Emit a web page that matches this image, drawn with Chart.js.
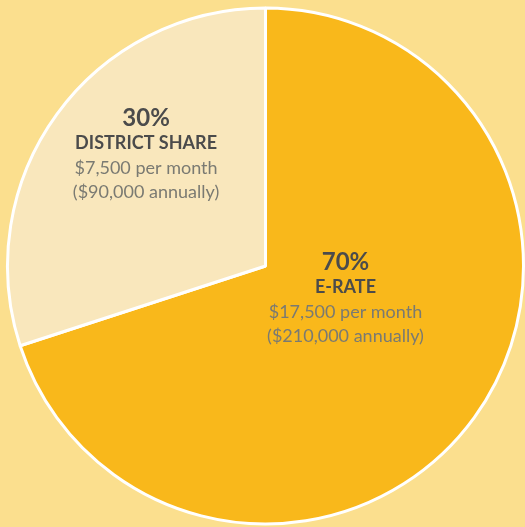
<!DOCTYPE html>
<html>
<head>
<meta charset="utf-8">
<script src="https://cdn.jsdelivr.net/npm/chart.js@4"></script>
<style>
  html, body { margin: 0; padding: 0; background: #fbdf8e; }
  #wrap { position: relative; width: 525px; height: 527px; }
</style>
</head>
<body>
<div id="wrap"><canvas id="fundingChart"></canvas></div>
<script>
// Funding split
const categories = ['E-RATE', 'DISTRICT SHARE'];
const shares = [70, 30];
const monthly = ['$17,500 per month', '$7,500 per month'];
const annual = ['($210,000 annually)', '($90,000 annually)'];
const sliceColors = ['#f9b81b', '#f9e7bc'];

// where each label block sits, relative to pie centre (in radii)
const labelOffsets = [[0.31, -0.016], [-0.463, -0.571]];

const sliceLabels = {
    id: 'sliceLabels',
    afterDatasetsDraw(chart) {
        const ctx = chart.ctx;
        const arcs = chart.getDatasetMeta(0).data;
        ctx.save();
        ctx.textAlign = 'center';
        ctx.textBaseline = 'middle';
        arcs.forEach(function(arc, i) {
            const r = arc.outerRadius;
            const x = arc.x + labelOffsets[i][0] * r;
            const y = arc.y + labelOffsets[i][1] * r;
            ctx.fillStyle = '#4b4b4b';
            ctx.font = 'bold 24px Lato';
            ctx.fillText(shares[i] + '%', x, y);
            ctx.font = 'bold 18px Lato';
            ctx.fillText(categories[i], x, y + 25);
            ctx.fillStyle = '#7a7a72';
            ctx.font = '18px Lato';
            ctx.fillText(monthly[i], x, y + 50);
            ctx.fillText(annual[i], x, y + 74);
        });
        ctx.restore();
    }
};

const ctx = document.getElementById('fundingChart').getContext('2d');
new Chart(ctx, {
    type: 'pie',
    data: {
        labels: categories,
        datasets: [{
            data: shares,
            backgroundColor: sliceColors,
            borderColor: '#ffffff',
            borderWidth: 3,
        }]
    },
    options: {
        responsive: true,
        maintainAspectRatio: false,
        animation: false,
        layout: { padding: { left: 6, top: 6, right: 0, bottom: 1 } },
        plugins: {
            legend: { display: false },
            tooltip: { enabled: false },
        }
    },
    plugins: [sliceLabels]
});
</script>
</body>
</html>
